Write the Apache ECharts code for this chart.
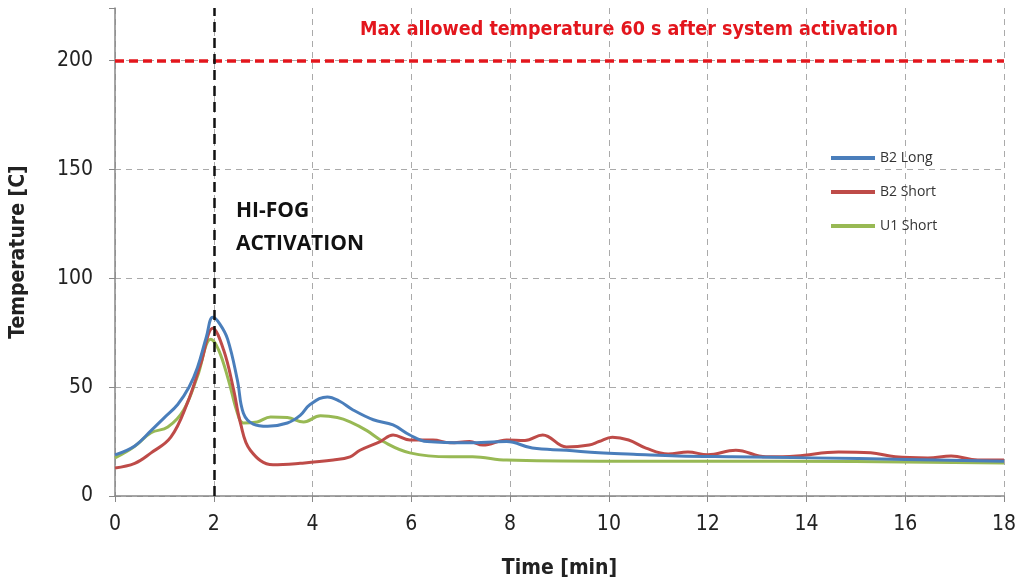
<!DOCTYPE html>
<html>
<head>
<meta charset="utf-8">
<script src="https://cdn.jsdelivr.net/npm/echarts@6/dist/echarts.min.js"></script>
<style>
  html, body { margin: 0; padding: 0; background: #fff; }
  #chart { width: 1019px; height: 588px; }
</style>
</head>
<body>
<div id="chart"></div>
<script>
// 数据: [time (min), temperature (C)]
var b2Long = [
  [0, 18.9], [0.4, 23], [0.73, 30], [1.0, 36], [1.27, 42], [1.5, 50], [1.67, 59], [1.85, 73], [1.98, 82],
  [2.12, 79], [2.28, 72], [2.48, 53], [2.6, 38], [2.8, 33], [3.09, 32], [3.49, 33.5], [3.75, 37],
  [3.95, 42], [4.3, 45.5], [4.55, 43.5], [4.82, 39.5], [5.23, 35], [5.63, 32.6], [5.97, 28],
  [6.32, 25], [7.12, 24.4], [7.93, 25], [8.45, 22], [9.14, 21], [9.8, 19.8], [10.5, 19.2],
  [11.4, 18.4], [12.5, 18], [14.1, 17.5], [16, 16.8], [18, 16]
];
var b2Short = [
  [0, 12.9], [0.4, 15], [0.73, 19.8], [1.13, 27], [1.47, 43], [1.74, 61], [1.98, 77], [2.2, 67],
  [2.4, 49], [2.54, 33.5], [2.74, 21], [3.2, 14.3], [3.75, 15], [4.42, 16.5], [4.76, 18],
  [4.96, 21], [5.37, 25], [5.63, 28], [5.97, 25.7], [6.44, 25.7], [6.78, 24.4], [7.18, 25],
  [7.45, 23.4], [7.93, 25.7], [8.3, 25.5], [8.66, 28], [9.14, 22.5], [9.6, 23.4], [9.8, 25],
  [10.07, 27], [10.4, 25.7], [10.75, 22], [11.2, 19.3], [11.6, 20.2], [12.0, 18.9], [12.57, 21],
  [13.18, 18], [13.8, 18.4], [14.65, 20.2], [15.3, 19.8], [15.8, 18], [16.46, 17.5],
  [16.93, 18.4], [17.47, 16.5], [18, 16.5]
];
var u1Short = [
  [0, 17.5], [0.38, 22.5], [0.73, 29], [1.07, 31.7], [1.39, 39.5], [1.67, 55], [1.94, 72],
  [2.1, 67], [2.3, 53], [2.48, 38], [2.6, 33.5], [2.88, 34], [3.15, 36.3], [3.49, 36],
  [3.82, 34], [4.16, 36.8], [4.5, 36], [4.76, 34], [5.1, 30], [5.43, 25], [5.97, 19.8],
  [6.78, 18], [7.24, 18], [7.93, 16.5], [9.8, 16], [12, 16], [15, 15.8], [18, 15.2]
];
var seriesNames = ['B2 Long', 'B2 Short', 'U1 Short'];
var seriesColors = ['#4a7ebb', '#be4b48', '#98b954'];
var yTicks = [0, 50, 100, 150, 200];
var maxAllowed = 200;
var activationTime = 2;
var yMax = 224;

var font = "'Liberation Sans Narrow', 'DejaVu Sans Condensed', 'Open Sans', sans-serif";
var chart = echarts.init(document.getElementById('chart'));
var datas = [b2Long, b2Short, u1Short];

var series = datas.map(function (d, i) {
  return {
    name: seriesNames[i],
    type: 'line',
    data: d,
    smooth: 0.4,
    showSymbol: false,
    lineStyle: { color: seriesColors[i], width: 3 },
    itemStyle: { color: seriesColors[i] },
    z: 3 - i
  };
});
// 参考线
series.push({
  type: 'line',
  data: [],
  silent: true,
  markLine: {
    symbol: 'none',
    silent: true,
    label: { show: false },
    data: [
      { yAxis: maxAllowed, lineStyle: { color: '#e3161d', width: 3.5, type: [9, 5] } },
      { xAxis: activationTime, lineStyle: { color: '#111', width: 2.5, type: [10, 6] } }
    ]
  },
  z: 5
});

chart.setOption({
  animation: false,
  textStyle: { fontFamily: font },
  grid: { left: 114, right: 13, top: 8, bottom: 92 },
  legend: {
    orient: 'vertical',
    left: 826,
    top: 146,
    itemWidth: 44,
    itemHeight: 4,
    itemGap: 20,
    icon: 'rect',
    data: seriesNames,
    textStyle: { fontFamily: "'Open Sans', sans-serif", fontSize: 14, color: '#333' }
  },
  xAxis: {
    type: 'value',
    min: 0, max: 18, interval: 2,
    name: 'Time [min]',
    nameLocation: 'middle',
    nameGap: 62,
    nameTextStyle: { fontSize: 21, fontWeight: 'bold', color: '#222', fontFamily: font },
    axisLine: { lineStyle: { color: '#888', width: 1.5 } },
    axisTick: { show: true, length: 6, inside: false, lineStyle: { color: '#888' } },
    axisLabel: { fontSize: 21, color: '#222', margin: 18 },
    splitLine: { show: true, lineStyle: { color: '#aaa', type: [6, 5] } }
  },
  yAxis: {
    type: 'value',
    min: 0, max: yMax, interval: 50,
    name: 'Temperature [C]',
    nameLocation: 'middle',
    nameGap: 86,
    nameTextStyle: { fontSize: 21, fontWeight: 'bold', color: '#222', fontFamily: font },
    axisLine: { show: true, lineStyle: { color: '#888', width: 1.5 } },
    axisTick: { show: true, length: 6, lineStyle: { color: '#888' } },
    axisLabel: {
      fontSize: 21, color: '#222', margin: 22,
      formatter: function (v) { return yTicks.indexOf(v) >= 0 ? v : ''; }
    },
    splitLine: {
      show: true,
      lineStyle: { color: ['#aaa', '#aaa', '#aaa', '#aaa', '#aaa', 'rgba(0,0,0,0)'], type: [6, 5] }
    }
  },
  series: series,
  graphic: [
    {
      type: 'text', left: 360, top: 20,
      style: {
        text: 'Max allowed temperature 60 s after system activation',
        fill: '#e3161d', fontSize: 19.5, fontWeight: 'bold', fontFamily: font
      }
    },
    {
      type: 'text', left: 236, top: 195,
      style: {
        text: 'HI-FOG\nACTIVATION', lineHeight: 33,
        fill: '#111', fontSize: 21, fontWeight: 'bold', fontFamily: "'Open Sans', sans-serif"
      }
    }
  ]
});
</script>
</body>
</html>
